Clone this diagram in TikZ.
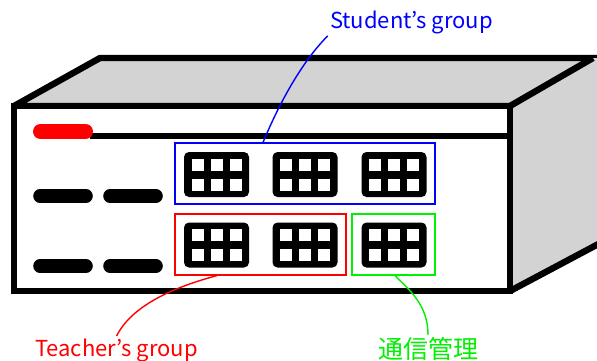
\documentclass[tikz,border=0pt]{standalone}
\usepackage{fontspec}
\setmainfont{Noto Sans CJK JP}
\usepackage{xcolor}
\usepackage{tikz}
\usetikzlibrary{
calc,
positioning
}
\definecolor{casing}{HTML}{D3D3D3}
\definecolor{grpblue}{HTML}{0000FF}
\definecolor{grpred}{HTML}{FF0000}
\definecolor{grpgreen}{HTML}{00F000}

\tikzset{
edge/.style={
line width=3.2pt
},
led/.style={
line width=7.5pt,
line cap=round
},
slot/.style={
line width=6.8pt,
line cap=round
},
groupbox/.style={
draw,
line width=0.6pt,
minimum height=30.5pt,
inner sep=0pt
},
grouplabel/.style={
font=\fontsize{11}{13}\selectfont,
inner sep=1pt
},
leader/.style={
line width=0.7pt
},
port/.pic={
\fill[black,rounded corners=2.5pt] (-32.5,-22.5) rectangle (32.5,22.5);
\foreach \i in {-19,0,19}
\foreach \j in {-10,10}
\fill[white] (\i-6,\j-6) rectangle (\i+6,\j+6);
}
}

\begin{document}
\begin{tikzpicture}[
x=0.5pt,
y=-0.5pt
]

\useasboundingbox (0,0) rectangle (597,360);
\clip (0,0) rectangle (597,360);

% top and side of the casing
\filldraw[
edge,
line join=bevel,
fill=casing
]
(14,106) -- (100,58) -- (604,58) -- (604,106) -- cycle;
\fill[casing] (510,106) -- (593,58) -- (604,58) -- (604,241) -- (510,291) -- cycle;
\draw[edge] (510,106) -- (593,58);
\draw[edge] (510,291) -- (604,241);

% front panel
\filldraw[
edge,
fill=white
]
(14,106) rectangle (510,291);
\draw[edge] (90,136) -- (510,136);
\draw[led,red] (40.5,131.5) -- (85.5,131.5);

% slots on the left
\foreach \y in {196,266}
{
\draw[slot] (40,\y) -- (86,\y);
\draw[slot] (110,\y) -- (156,\y);
}

% ports
\foreach \x in {216.5,305,394}
{
\pic at (\x,174.5) {port};
\pic at (\x,245) {port};
}

% groups
\node[
groupbox,
draw=grpblue,
minimum width=130pt
]
(students)
at (305,173.5)
{};

\node[
groupbox,
draw=grpred,
minimum width=85.5pt
]
(teachers)
at (260.5,244.5)
{};

\node[
groupbox,
draw=grpgreen,
minimum width=41.5pt
]
(comms)
at (393.5,244.5)
{};

% labels
\node[
grouplabel,
text=grpblue
]
(studentlabel)
at (411.5,22)
{Student's group};

\node[
grouplabel,
text=grpred
]
(teacherlabel)
at (116.5,350)
{Teacher's group};

\node[
grouplabel,
font=\fontsize{12.5}{14}\selectfont,
text=grpgreen
]
(commlabel)
at (428,349)
{通信管理};

% leaders
\draw[leader,grpblue]
([xshift=-21pt]students.north)
.. controls +(25,-60) and +(-15,15) ..
(studentlabel.south west);

\draw[leader,grpred]
([xshift=-21.75pt]teachers.south)
.. controls +(-45,12) and +(15,-30) ..
(teacherlabel.north);

\draw[leader,grpgreen]
([xshift=0.75pt]comms.south)
.. controls +(15,15) and +(0,-30) ..
(commlabel.north);

\end{tikzpicture}
\end{document}
